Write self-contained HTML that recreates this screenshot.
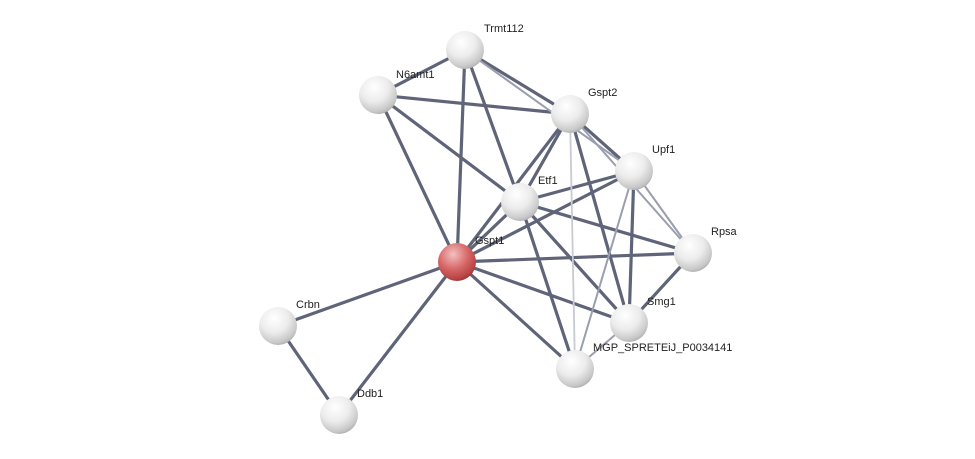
<!DOCTYPE html>
<html><head><meta charset="utf-8"><style>html,body{margin:0;padding:0;background:#fff}svg{display:block}</style></head>
<body>
<svg width="975" height="459" viewBox="0 0 975 459" xmlns="http://www.w3.org/2000/svg">
<defs>
<radialGradient id="g" cx="0.4" cy="0.3" r="0.75">
<stop offset="0" stop-color="#ffffff"/><stop offset="0.5" stop-color="#ececec"/><stop offset="0.85" stop-color="#c8c8c8"/><stop offset="1" stop-color="#a8a8a8"/>
</radialGradient>
<radialGradient id="r" cx="0.4" cy="0.3" r="0.75">
<stop offset="0" stop-color="#f4c0c0"/><stop offset="0.5" stop-color="#d86a6a"/><stop offset="0.85" stop-color="#b84444"/><stop offset="1" stop-color="#903030"/>
</radialGradient>
</defs>
<g stroke-linecap="round">
<g stroke="#5f6478" stroke-width="3.2">
<line x1="278" y1="326" x2="339" y2="415"/>
<line x1="278" y1="326" x2="457" y2="262"/>
<line x1="339" y1="415" x2="457" y2="262"/>
<line x1="457" y1="262" x2="378" y2="95"/>
<line x1="457" y1="262" x2="465" y2="50"/>
<line x1="457" y1="262" x2="520" y2="202"/>
<line x1="457" y1="262" x2="570" y2="114"/>
<line x1="457" y1="262" x2="634" y2="171"/>
<line x1="457" y1="262" x2="693" y2="253"/>
<line x1="457" y1="262" x2="629" y2="323"/>
<line x1="457" y1="262" x2="575" y2="369"/>
<line x1="378" y1="95" x2="465" y2="50"/>
<line x1="378" y1="95" x2="570" y2="114"/>
<line x1="378" y1="95" x2="520" y2="202"/>
<line x1="465" y1="50" x2="570" y2="114"/>
<line x1="465" y1="50" x2="520" y2="202"/>
<line x1="570" y1="114" x2="520" y2="202"/>
<line x1="570" y1="114" x2="634" y2="171"/>
<line x1="570" y1="114" x2="629" y2="323"/>
<line x1="520" y1="202" x2="634" y2="171"/>
<line x1="520" y1="202" x2="693" y2="253"/>
<line x1="520" y1="202" x2="629" y2="323"/>
<line x1="520" y1="202" x2="575" y2="369"/>
<line x1="634" y1="171" x2="629" y2="323"/>
<line x1="693" y1="253" x2="629" y2="323"/>
</g>
<g stroke="#9a9eae" stroke-width="2">
<line x1="465" y1="50" x2="634" y2="171"/>
<line x1="570" y1="114" x2="693" y2="253"/>
<line x1="634" y1="171" x2="693" y2="253"/>
<line x1="634" y1="171" x2="575" y2="369"/>
<line x1="629" y1="323" x2="575" y2="369"/>
</g>
<line x1="570" y1="114" x2="575" y2="369" stroke="#c8cad4" stroke-width="1.8"/>
</g>
<g>
<circle cx="465" cy="50" r="19" fill="url(#g)"/>
<circle cx="378" cy="95" r="19" fill="url(#g)"/>
<circle cx="570" cy="114" r="19" fill="url(#g)"/>
<circle cx="634" cy="171" r="19" fill="url(#g)"/>
<circle cx="520" cy="202" r="19" fill="url(#g)"/>
<circle cx="693" cy="253" r="19" fill="url(#g)"/>
<circle cx="457" cy="262" r="19" fill="url(#r)"/>
<circle cx="629" cy="323" r="19" fill="url(#g)"/>
<circle cx="575" cy="369" r="19" fill="url(#g)"/>
<circle cx="278" cy="326" r="19" fill="url(#g)"/>
<circle cx="339" cy="415" r="19" fill="url(#g)"/>
</g>
<g font-family="Liberation Sans, sans-serif" font-size="11" fill="#222">
<text x="484" y="32">Trmt112</text>
<text x="396" y="78">N6amt1</text>
<text x="588" y="96">Gspt2</text>
<text x="652" y="153">Upf1</text>
<text x="538" y="184">Etf1</text>
<text x="711" y="235">Rpsa</text>
<text x="475" y="244">Gspt1</text>
<text x="647" y="305">Smg1</text>
<text x="593" y="351">MGP_SPRETEiJ_P0034141</text>
<text x="296" y="308">Crbn</text>
<text x="357" y="397">Ddb1</text>
</g>
</svg>
</body></html>
